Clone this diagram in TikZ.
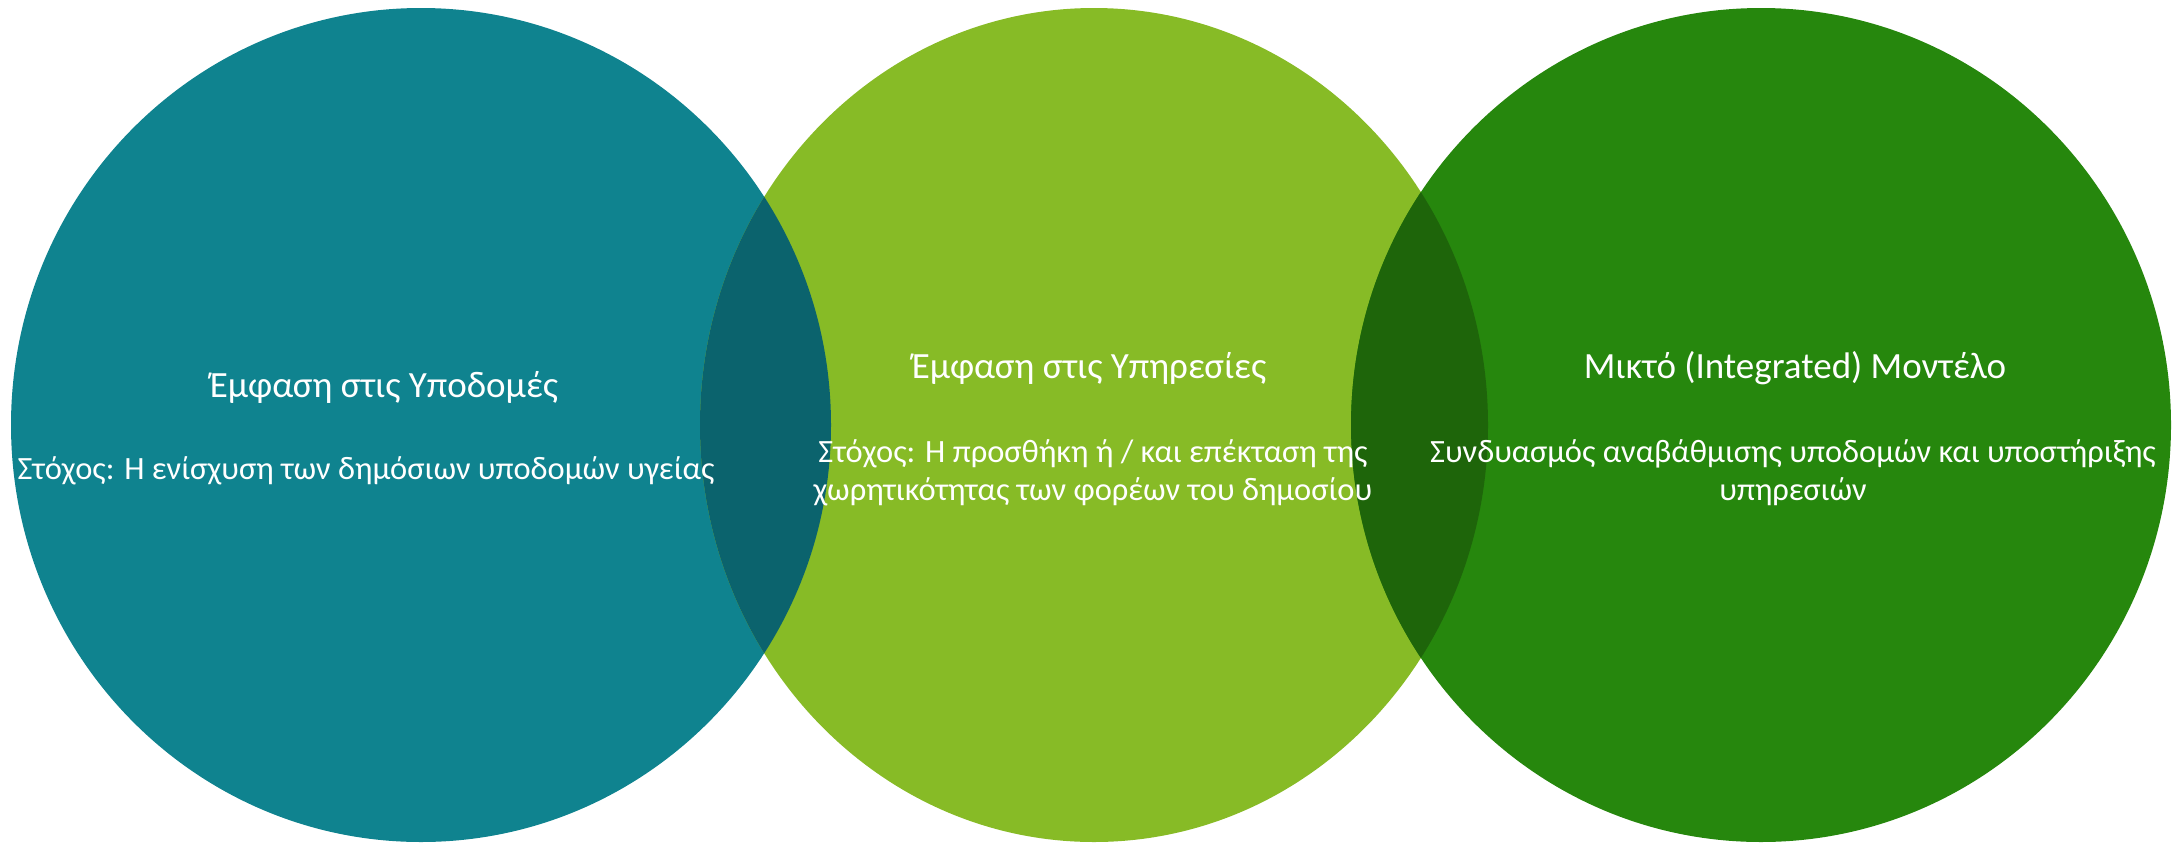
\documentclass[tikz,border=0pt]{standalone}
\usepackage{fontspec}
\setmainfont{Carlito}
\usepackage{tikz}
\definecolor{infra}{RGB}{15,131,143}
\definecolor{serv}{RGB}{135,187,38}
\definecolor{mixed}{RGB}{38,135,13}
\definecolor{infraserv}{RGB}{11,99,109}
\definecolor{servmixed}{RGB}{30,101,10}

\begin{document}
\begin{tikzpicture}[x=1pt, y=-1pt,
  title/.style = {text=white, align=center, font=\fontsize{37}{44}\selectfont},
  goal/.style = {text=white, align=center, font=\fontsize{32.5}{38}\selectfont}]
\useasboundingbox (0,0) rectangle (2184,844);
% the three sets
\coordinate (cinfra) at (421,425);
\coordinate (cserv) at (1094,425);
\coordinate (cmixed) at (1761,425);
\fill[infra] (cinfra) ellipse [x radius=410, y radius=417];
\fill[serv] (cserv) ellipse [x radius=394, y radius=417];
\fill[mixed] (cmixed) ellipse [x radius=410, y radius=417];
% overlaps
\begin{scope}
  \clip (cinfra) ellipse [x radius=410, y radius=417];
  \fill[infraserv] (cserv) ellipse [x radius=394, y radius=417];
\end{scope}
\begin{scope}
  \clip (cserv) ellipse [x radius=394, y radius=417];
  \fill[servmixed] (cmixed) ellipse [x radius=410, y radius=417];
\end{scope}
% texts
\node[title] (infrahead) at (384,387) {Έμφαση στις Υποδομές};
\node[goal] (infragoal) at (366,471) {Στόχος: Η ενίσχυση των δημόσιων υποδομών υγείας};
\node[title] (servhead) at (1089,368) {Έμφαση στις Υπηρεσίες};
\node[goal] (servgoal) at (1093,473) {Στόχος: Η προσθήκη ή / και επέκταση της\\χωρητικότητας των φορέων του δημοσίου};
\node[title] (mixedhead) at (1795,368) {Μικτό (Integrated) Μοντέλο};
\node[goal] (mixedgoal) at (1793,473) {Συνδυασμός αναβάθμισης υποδομών και υποστήριξης\\υπηρεσιών};
\end{tikzpicture}
\end{document}
